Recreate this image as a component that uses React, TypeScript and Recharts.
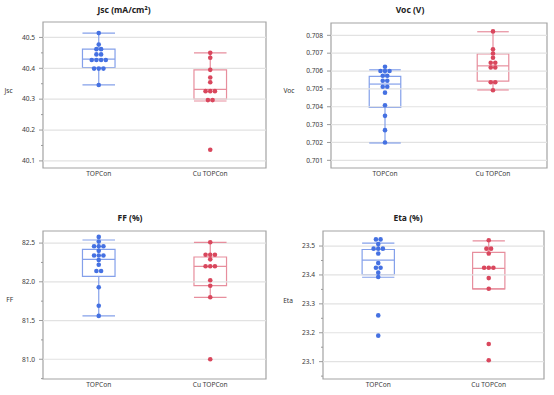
import React from 'react';
import { ComposedChart, Scatter, XAxis, YAxis, ReferenceLine, ReferenceArea } from 'recharts';

const categories = ['TOPCon', 'Cu TOPCon'];

// box stats are [lower whisker, Q1, median, Q3, upper whisker]
const jscTopcon = [40.514, 40.477, 40.462, 40.462, 40.445, 40.445, 40.427, 40.427, 40.427, 40.427, 40.399, 40.399, 40.399, 40.346];
const jscCuTopcon = [40.45, 40.434, 40.395, 40.37, 40.355, 40.326, 40.326, 40.326, 40.297, 40.297, 40.136];
const jscTopconBox = [40.346, 40.402, 40.43, 40.462, 40.514];
const jscCuTopconBox = [40.294, 40.3, 40.332, 40.395, 40.45];
const jscTicks = [40.1, 40.2, 40.3, 40.4, 40.5];
const jscMinorTicks = [40.15, 40.25, 40.35, 40.45];

const vocTopcon = [0.70624, 0.706, 0.706, 0.706, 0.70574, 0.70574, 0.70546, 0.70546, 0.70512, 0.70512, 0.70479, 0.70408, 0.70349, 0.70269, 0.702];
const vocCuTopcon = [0.70822, 0.70722, 0.70698, 0.70674, 0.70646, 0.70646, 0.7062, 0.7062, 0.70537, 0.70537, 0.70492];
const vocTopconBox = [0.70197, 0.70397, 0.70527, 0.7057, 0.70607];
const vocCuTopconBox = [0.70494, 0.70544, 0.70629, 0.70696, 0.7082];
const vocTicks = [0.701, 0.702, 0.703, 0.704, 0.705, 0.706, 0.707, 0.708];
const vocMinorTicks: number[] = [];

const ffTopcon = [82.58, 82.52, 82.46, 82.46, 82.46, 82.4, 82.34, 82.34, 82.34, 82.28, 82.22, 82.14, 82.14, 81.93, 81.69, 81.56];
const ffCuTopcon = [82.51, 82.35, 82.35, 82.35, 82.29, 82.2, 82.2, 82.2, 82.02, 81.95, 81.8, 81.0];
const ffTopconBox = [81.56, 82.07, 82.29, 82.42, 82.54];
const ffCuTopconBox = [81.8, 81.95, 82.2, 82.32, 82.51];
const ffTicks = [81.0, 81.5, 82.0, 82.5];
const ffMinorTicks = [80.75, 81.25, 81.75, 82.25];

const etaTopcon = [23.523, 23.523, 23.507, 23.491, 23.491, 23.491, 23.474, 23.441, 23.425, 23.425, 23.408, 23.393, 23.26, 23.19];
const etaCuTopcon = [23.52, 23.491, 23.491, 23.474, 23.425, 23.425, 23.425, 23.389, 23.352, 23.161, 23.105];
const etaTopconBox = [23.392, 23.401, 23.451, 23.488, 23.51];
const etaCuTopconBox = [23.352, 23.352, 23.423, 23.478, 23.518];
const etaTicks = [23.1, 23.2, 23.3, 23.4, 23.5];
const etaMinorTicks = [23.05, 23.15, 23.25, 23.35, 23.45];

const BLUE = '#4571e2';
const BLUE_BOX = '#84a0ea';
const RED = '#d9475d';
const RED_BOX = '#e78e9d';
const FONT = '"Noto Sans", "Open Sans", sans-serif';
const SWARM_STEP = 0.042;
const BOX_HALF = 0.146;

// spread equal values sideways like a beeswarm
const swarm = (values: number[], cat: number) => {
  const counts = new Map<number, number>();
  values.forEach(v => counts.set(v, (counts.get(v) || 0) + 1));
  const seen = new Map<number, number>();
  return values.map(v => {
    const n = counts.get(v) || 1;
    const i = seen.get(v) || 0;
    seen.set(v, i + 1);
    return { x: cat + 0.5 + (i - (n - 1) / 2) * SWARM_STEP, y: v };
  });
};

const boxElements = (stats: number[], cat: number, color: string, key: string) => {
  const [lo, q1, med, q3, hi] = stats;
  const c = cat + 0.5;
  const l = c - BOX_HALF;
  const r = c + BOX_HALF;
  const line = { stroke: color, strokeWidth: 1.2 };
  return [
    <ReferenceArea key={key + 'box'} x1={l} x2={r} y1={q1} y2={q3} fill="none" stroke={color} strokeWidth={1.2} fillOpacity={0} ifOverflow="visible" />,
    <ReferenceLine key={key + 'med'} segment={[{ x: l, y: med }, { x: r, y: med }]} {...line} ifOverflow="visible" />,
    <ReferenceLine key={key + 'wu'} segment={[{ x: c, y: q3 }, { x: c, y: hi }]} {...line} ifOverflow="visible" />,
    <ReferenceLine key={key + 'wl'} segment={[{ x: c, y: lo }, { x: c, y: q1 }]} {...line} ifOverflow="visible" />,
    <ReferenceLine key={key + 'cu'} segment={[{ x: l, y: hi }, { x: r, y: hi }]} {...line} ifOverflow="visible" />,
    <ReferenceLine key={key + 'cl'} segment={[{ x: l, y: lo }, { x: r, y: lo }]} {...line} ifOverflow="visible" />
  ];
};

const makeTick = (majors: number[], digits: number) => (props: any) => {
  const { x, y, payload } = props;
  const isMajor = majors.some(m => Math.abs(m - payload.value) < 1e-9);
  return (
    <g>
      <line x1={x + (isMajor ? 4 : 6)} x2={x + 8} y1={y} y2={y} stroke="#9a9a9a" />
      {isMajor && (
        <text x={x} y={y} dy="0.35em" textAnchor="end" fontSize={6.6} fontFamily={FONT} fill="#3a3a3a">
          {payload.value.toFixed(digits)}
        </text>
      )}
    </g>
  );
};

const CategoryTick = (props: any) => {
  const { x, y, payload } = props;
  return (
    <text x={x} y={y} dy="0.71em" textAnchor="middle" fontSize={6.6} fontFamily={FONT} fill="#3a3a3a">
      {categories[Math.floor(payload.value)]}
    </text>
  );
};

interface PanelProps {
  left: number;
  top: number;
  width: number;
  height: number;
  margin: { top: number; right: number; bottom: number; left: number };
  yWidth: number;
  title: string;
  titlePos: [number, number];
  yLabel: string;
  yLabelPos: [number, number];
  domain: [number, number];
  ticks: number[];
  minorTicks: number[];
  digits: number;
  topcon: number[];
  cuTopcon: number[];
  topconBox: number[];
  cuTopconBox: number[];
}

const Panel = (p: PanelProps) => {
  const allTicks = [...p.ticks, ...p.minorTicks].sort((a, b) => a - b);
  const textStyle: React.CSSProperties = {
    position: 'absolute',
    transform: 'translate(-50%, -50%)',
    whiteSpace: 'nowrap',
    lineHeight: 1,
    fontFamily: FONT,
    color: '#222'
  };
  return (
    <>
      <div style={{ ...textStyle, left: p.titlePos[0], top: p.titlePos[1], fontSize: 8.5, fontWeight: 700 }}>{p.title}</div>
      <div style={{ ...textStyle, left: p.yLabelPos[0], top: p.yLabelPos[1], fontSize: 6.6, color: '#333' }}>{p.yLabel}</div>
      <div style={{ position: 'absolute', left: p.left, top: p.top }}>
        <ComposedChart width={p.width} height={p.height} margin={p.margin}>
          <XAxis
            type="number"
            dataKey="x"
            domain={[0, 2]}
            ticks={[0.5, 1.5]}
            axisLine={false}
            tickLine={false}
            tickSize={1}
            tickMargin={2}
            height={12}
            interval={0}
            tick={<CategoryTick />}
          />
          <YAxis
            type="number"
            dataKey="y"
            domain={p.domain}
            ticks={allTicks}
            interval={0}
            width={p.yWidth}
            axisLine={false}
            tickLine={false}
            tickSize={4}
            tickMargin={4}
            allowDataOverflow
            tick={makeTick(p.ticks, p.digits)}
          />
          {p.ticks.map(t => (
            <ReferenceLine key={'g' + t} y={t} stroke="#e2e2e2" strokeWidth={1.2} />
          ))}
          <ReferenceArea x1={0} x2={2} y1={p.domain[0]} y2={p.domain[1]} fill="none" fillOpacity={0} stroke="#a3a3a3" strokeWidth={1.2} ifOverflow="visible" />
          {boxElements(p.topconBox, 0, BLUE_BOX, 'a')}
          {boxElements(p.cuTopconBox, 1, RED_BOX, 'b')}
          <Scatter
            data={swarm(p.topcon, 0)}
            isAnimationActive={false}
            shape={(s: any) => <circle cx={s.cx} cy={s.cy} r={2.3} fill={BLUE} />}
          />
          <Scatter
            data={swarm(p.cuTopcon, 1)}
            isAnimationActive={false}
            shape={(s: any) => <circle cx={s.cx} cy={s.cy} r={2.3} fill={RED} />}
          />
        </ComposedChart>
      </div>
    </>
  );
};

export default function App() {
  return (
    <div style={{ position: 'absolute', left: 0, top: 0, width: 554, height: 395, background: '#fff', overflow: 'hidden' }}>
      <Panel
        left={0} top={0} width={270} height={185}
        margin={{ top: 22, right: 4, bottom: 5, left: 0 }} yWidth={43}
        title="Jsc (mA/cm²)" titlePos={[124, 10]}
        yLabel="Jsc" yLabelPos={[8.5, 91]}
        domain={[40.077, 40.55]} ticks={jscTicks} minorTicks={jscMinorTicks} digits={1}
        topcon={jscTopcon} cuTopcon={jscCuTopcon} topconBox={jscTopconBox} cuTopconBox={jscCuTopconBox}
      />
      <Panel
        left={277} top={0} width={277} height={185}
        margin={{ top: 23, right: 7, bottom: 5, left: 0 }} yWidth={54}
        title="Voc (V)" titlePos={[410, 9.5]}
        yLabel="Voc" yLabelPos={[289, 91]}
        domain={[0.70057, 0.70869]} ticks={vocTicks} minorTicks={vocMinorTicks} digits={3}
        topcon={vocTopcon} cuTopcon={vocCuTopcon} topconBox={vocTopconBox} cuTopconBox={vocCuTopconBox}
      />
      <Panel
        left={0} top={197} width={270} height={198}
        margin={{ top: 34, right: 4, bottom: 4, left: 0 }} yWidth={43}
        title="FF (%)" titlePos={[130, 218]}
        yLabel="FF" yLabelPos={[9.7, 300]}
        domain={[80.745, 82.656]} ticks={ffTicks} minorTicks={ffMinorTicks} digits={1}
        topcon={ffTopcon} cuTopcon={ffCuTopcon} topconBox={ffTopconBox} cuTopconBox={ffCuTopconBox}
      />
      <Panel
        left={277} top={197} width={277} height={198}
        margin={{ top: 34, right: 10, bottom: 4, left: 0 }} yWidth={46}
        title="Eta (%)" titlePos={[408, 218]}
        yLabel="Eta" yLabelPos={[288, 301]}
        domain={[23.04, 23.552]} ticks={etaTicks} minorTicks={etaMinorTicks} digits={1}
        topcon={etaTopcon} cuTopcon={etaCuTopcon} topconBox={etaTopconBox} cuTopconBox={etaCuTopconBox}
      />
    </div>
  );
}
